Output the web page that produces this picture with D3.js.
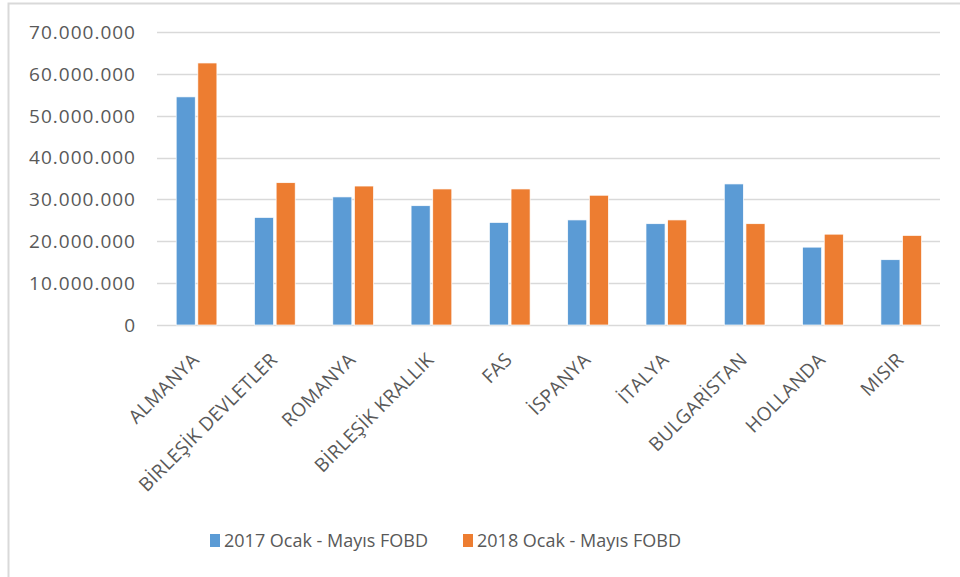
<!DOCTYPE html>
<html>
<head>
<meta charset="utf-8">
<script src="https://cdn.jsdelivr.net/npm/d3@7"></script>
<style>
  body { margin: 0; background: #fff; }
  svg { display: block; font-family: "Open Sans", "DejaVu Sans", sans-serif; }
</style>
</head>
<body>
<svg id="chart"></svg>
<script>
// data
var countries = ["ALMANYA", "BİRLEŞİK DEVLETLER", "ROMANYA", "BİRLEŞİK KRALLIK", "FAS",
                 "İSPANYA", "İTALYA", "BULGARİSTAN", "HOLLANDA", "MISIR"];
var seriesNames = ["2017 Ocak - Mayıs FOBD", "2018 Ocak - Mayıs FOBD"];
var values2017 = [54500000, 25700000, 30600000, 28500000, 24500000, 25100000, 24200000, 33700000, 18600000, 15600000];
var values2018 = [62600000, 34000000, 33200000, 32500000, 32500000, 31000000, 25100000, 24200000, 21700000, 21400000];
var yTicks = [0, 10000000, 20000000, 30000000, 40000000, 50000000, 60000000, 70000000];
var colors = ["#5b9bd5", "#ed7d31"];

var width = 960, height = 577;
var svg = d3.select("#chart").attr("width", width).attr("height", height);

// outer chart border (only top and left visible)
svg.append("rect")
  .attr("x", 8.5).attr("y", 3.5)
  .attr("width", 1000).attr("height", 700)
  .attr("fill", "none")
  .attr("stroke", "#d9d9d9")
  .attr("stroke-width", 2);

var plot = { left: 157, right: 940, top: 32, bottom: 325 };

var y = d3.scaleLinear().domain([0, 70000000]).range([plot.bottom, plot.top]);
var x0 = d3.scaleBand().domain(countries).range([plot.left, plot.right]);
var x1 = d3.scaleBand().domain(seriesNames)
  .range([x0.step() * 0.245, x0.step() * 0.765])
  .paddingInner(0.12);

var fmt = function(v) { return d3.format(",")(v).replace(/,/g, "."); };

// gridlines
svg.append("g")
  .selectAll("line")
  .data(yTicks)
  .join("line")
  .attr("x1", plot.left).attr("x2", plot.right)
  .attr("y1", d => Math.round(y(d)) + 0.5).attr("y2", d => Math.round(y(d)) + 0.5)
  .attr("stroke", "#d9d9d9")
  .attr("stroke-width", 1.5);

// y labels
svg.append("g")
  .selectAll("text")
  .data(yTicks)
  .join("text")
  .attr("x", 136)
  .attr("y", d => y(d))
  .attr("dy", "0.36em")
  .attr("text-anchor", "end")
  .attr("fill", "#595959")
  .style("font-size", "19px")
  .style("letter-spacing", "1px")
  .text(fmt);

// bars
var rows = countries.map((c, i) => ({ country: c, vals: [values2017[i], values2018[i]] }));

var groups = svg.append("g")
  .selectAll("g")
  .data(rows)
  .join("g")
  .attr("transform", d => "translate(" + x0(d.country) + ",0)");

groups.selectAll("rect")
  .data(d => d.vals.map((v, k) => ({ key: seriesNames[k], value: v, k: k })))
  .join("rect")
  .attr("x", d => x1(d.key))
  .attr("y", d => y(d.value))
  .attr("width", x1.bandwidth())
  .attr("height", d => plot.bottom - y(d.value))
  .attr("fill", d => colors[d.k])
  .attr("stroke", "#fff")
  .attr("stroke-width", 0.7);

// x labels, rotated
svg.append("g")
  .selectAll("text")
  .data(countries)
  .join("text")
  .attr("transform", d => "translate(" + (x0(d) + x0.bandwidth() / 2 + 4) + "," + 361 + ") rotate(-45)")
  .attr("text-anchor", "end")
  .attr("fill", "#595959")
  .style("font-size", "19px")
  .style("letter-spacing", "0.3px")
  .text(d => d);

// legend
var legendX = [210, 463];
var legend = svg.append("g")
  .selectAll("g")
  .data(seriesNames)
  .join("g")
  .attr("transform", (d, i) => "translate(" + legendX[i] + ",534)");

legend.append("rect")
  .attr("width", 10).attr("height", 13)
  .attr("fill", (d, i) => colors[i]);

legend.append("text")
  .attr("x", 14).attr("y", 7)
  .attr("dy", "0.36em")
  .attr("fill", "#595959")
  .style("font-size", "18px")
  .text(d => d);
</script>
</body>
</html>
